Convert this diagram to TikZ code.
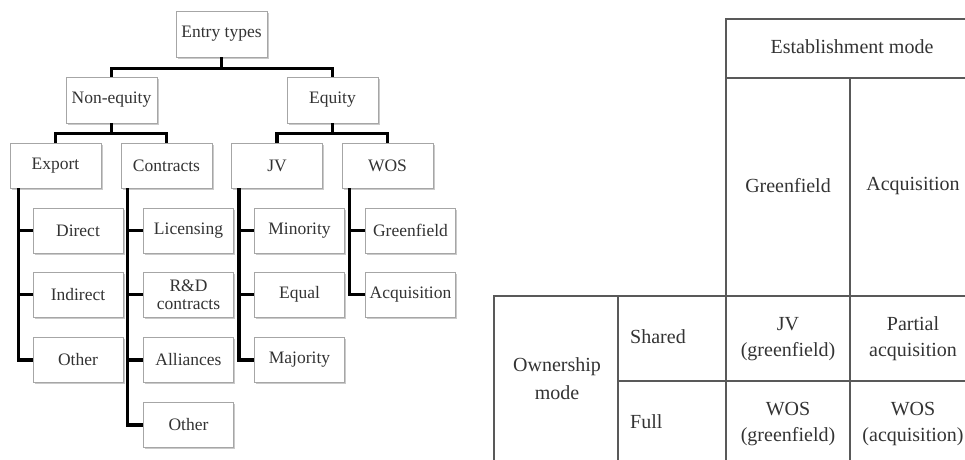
\documentclass[tikz,border=0pt]{standalone}
\usepackage{fontspec}
\setmainfont{Liberation Serif}
\usetikzlibrary{shadows,calc}
\begin{document}
\begin{tikzpicture}[x=1pt,y=-1pt,
  tbox/.style={draw=black!35, line width=0.9pt, fill=white, text=black!80,
    minimum width=91pt, minimum height=46pt, inner sep=1pt, align=center,
    font=\fontsize{17.5}{18}\selectfont,
    drop shadow={shadow xshift=1.6pt, shadow yshift=-1.8pt, opacity=0.35, fill=black!60}},
  cbox/.style={tbox, minimum width=90pt, minimum height=45pt},
  conn/.style={draw=black, line width=3.6pt, line join=miter},
  tline/.style={draw=black!65, line width=1.3pt},
  ttext/.style={text=black!80, font=\fontsize{20}{26}\selectfont, align=center, inner sep=0pt}]
\useasboundingbox (0,0) rectangle (965,459);
\begin{scope}
\clip (0,0) rectangle (965,459);
% tree nodes
\node[tbox] (et) at (221.5,34) {Entry types};
\node[tbox] (ne) at (111.5,100) {Non-equity};
\node[tbox] (eq) at (332.5,100) {Equity};
\node[cbox, minimum width=91pt] (ex) at (55.5,165.5) {Export};
\node[cbox, minimum width=91pt] (co) at (166.5,165.5) {Contracts};
\node[cbox, minimum width=91pt] (jv) at (277,165.5) {JV};
\node[cbox, minimum width=91pt] (wo) at (387.5,165.5) {WOS};
% children
\node[cbox] (ex1) at (78,230.5) {Direct};
\node[cbox] (ex2) at (78,294.5) {Indirect};
\node[cbox] (ex3) at (78,360) {Other};
\node[cbox] (co1) at (188.5,230.5) {Licensing};
\node[cbox] (co2) at (188.5,294.5) {R\&D\\contracts};
\node[cbox] (co3) at (188.5,360) {Alliances};
\node[cbox] (co4) at (188.5,425) {Other};
\node[cbox] (jv1) at (299.5,230.5) {Minority};
\node[cbox] (jv2) at (299.5,294.5) {Equal};
\node[cbox] (jv3) at (299.5,360) {Majority};
\node[cbox] (wo1) at (410.5,230.5) {Greenfield};
\node[cbox] (wo2) at (410.5,294.5) {Acquisition};
% connectors
\draw[conn] (et.south) -- ++(0,11) -| (ne.north);
\draw[conn] (et.south) -- ++(0,11) -| (eq.north);
\draw[conn] (ne.south) -- ++(0,10) -| (ex.north);
\draw[conn] (ne.south) -- ++(0,10) -| (co.north);
\draw[conn] (eq.south) -- ++(0,10) -| (jv.north);
\draw[conn] (eq.south) -- ++(0,10) -| (wo.north);
\draw[conn] ([xshift=9pt]ex.south west) |- (ex3.west);
\draw[conn] ([xshift=9pt]ex.south west) |- (ex1.west);
\draw[conn] ([xshift=9pt]ex.south west) |- (ex2.west);
\draw[conn] ([xshift=7pt]co.south west) |- (co4.west);
\draw[conn] ([xshift=7pt]co.south west) |- (co1.west);
\draw[conn] ([xshift=7pt]co.south west) |- (co2.west);
\draw[conn] ([xshift=7pt]co.south west) |- (co3.west);
\draw[conn] ([xshift=8pt]jv.south west) |- (jv3.west);
\draw[conn] ([xshift=8pt]jv.south west) |- (jv1.west);
\draw[conn] ([xshift=8pt]jv.south west) |- (jv2.west);
\draw[conn] ([xshift=8pt]wo.south west) |- (wo2.west);
\draw[conn] ([xshift=8pt]wo.south west) |- (wo1.west);
% table
\draw[tline] (980,19) -- (726,19) -- (726,470);
\draw[tline] (726,78) -- (980,78);
\draw[tline] (850,78) -- (850,470);
\draw[tline] (494,470) -- (494,296) -- (980,296);
\draw[tline] (618,296) -- (618,470);
\draw[tline] (618,381) -- (980,381);
\node[ttext] (em) at (852,47) {Establishment mode};
\node[ttext] (gf) at (788,186) {Greenfield};
\node[ttext] (aq) at (913,186) {Acquisition};
\node[ttext, anchor=west] (sh) at (630,337) {Shared};
\node[ttext, anchor=west] (fu) at (630,422) {Full};
\node[ttext, font=\fontsize{20}{28}\selectfont] (om) at (557,379) {Ownership\\mode};
\node[ttext] (c11) at (788,339) {JV\\(greenfield)};
\node[ttext] (c12) at (913,339) {Partial\\acquisition};
\node[ttext] (c21) at (788,424) {WOS\\(greenfield)};
\node[ttext] (c22) at (913,424) {WOS\\(acquisition)};
\end{scope}
\end{tikzpicture}
\end{document}
